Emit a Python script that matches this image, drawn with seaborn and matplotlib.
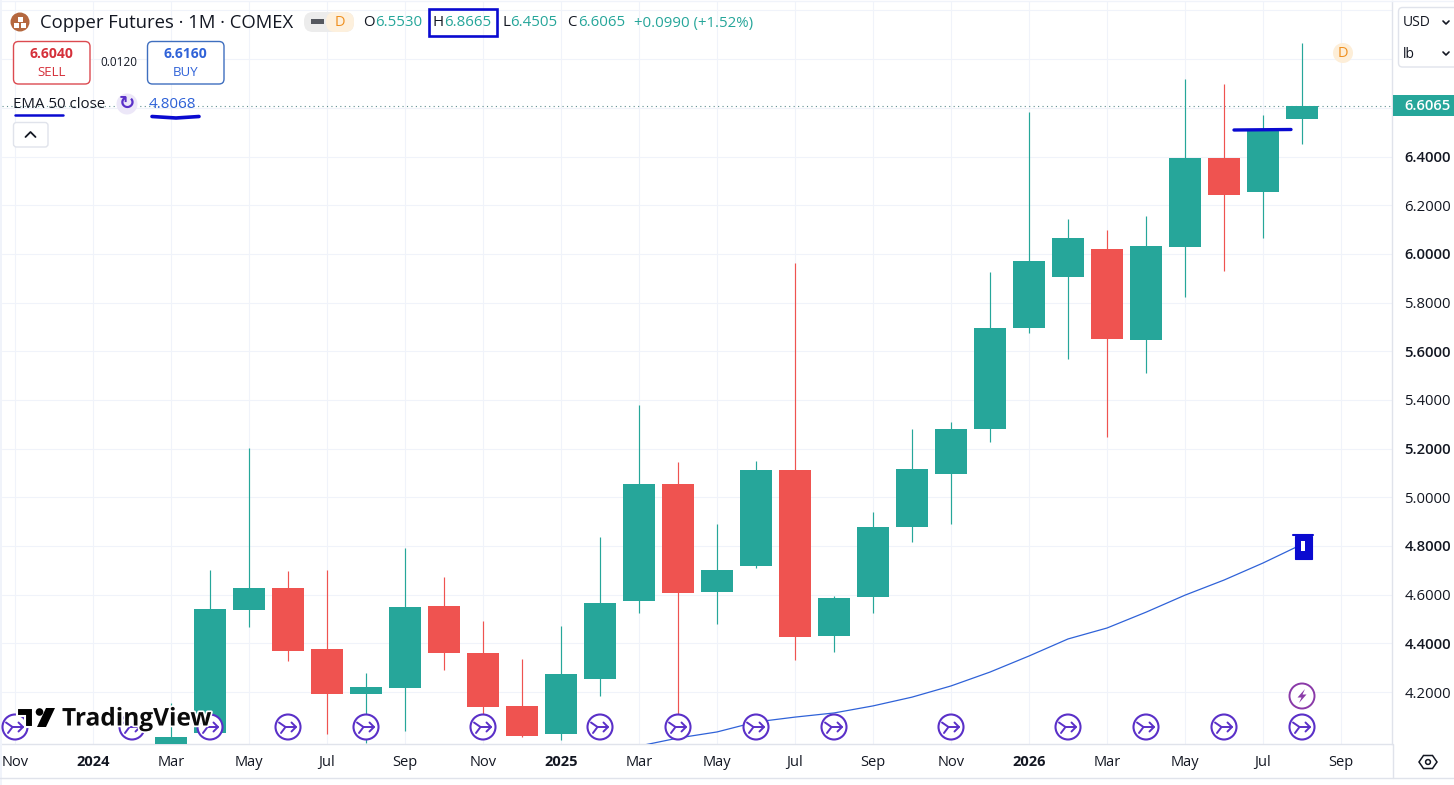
import pandas as pd
import matplotlib.pyplot as plt
import matplotlib.patheffects as pe
import seaborn as sns
from matplotlib.patches import Circle, FancyBboxPatch, Polygon, Rectangle

# monthly candles, month 0 = Nov 2023 (earlier ones are off the bottom of the scale)
months = list(range(4, 34))
opens = [3.96, 4.032, 4.537, 4.627, 4.377, 4.192, 4.216, 4.553, 4.360, 4.143,
         4.028, 4.253, 4.574, 5.054, 4.610, 4.717, 5.111, 4.430, 4.590, 4.877,
         5.095, 5.280, 5.694, 5.904, 6.019, 5.645, 6.027, 6.392, 6.253, 6.553]
highs = [4.155, 4.701, 5.202, 4.697, 4.701, 4.278, 4.791, 4.672, 4.491, 4.335,
         4.471, 4.836, 5.378, 5.144, 4.890, 5.148, 5.961, 4.594, 4.939, 5.280,
         5.308, 5.924, 6.585, 6.142, 6.097, 6.154, 6.720, 6.700, 6.569, 6.8665]
lows = [3.93, 4.030, 4.467, 4.327, 4.028, 3.991, 4.040, 4.290, 4.106, 4.015,
        4.003, 4.184, 4.524, 4.100, 4.479, 4.709, 4.331, 4.364, 4.524, 4.816,
        4.890, 5.226, 5.674, 5.567, 5.247, 5.510, 5.821, 5.928, 6.064, 6.4505]
closes = [4.015, 4.541, 4.627, 4.368, 4.192, 4.221, 4.549, 4.360, 4.138, 4.019,
          4.274, 4.565, 5.054, 4.606, 4.700, 5.111, 4.426, 4.586, 4.877, 5.115,
          5.280, 5.694, 5.969, 6.064, 5.649, 6.031, 6.396, 6.244, 6.507, 6.6065]

ema_months = list(range(16, 34))
ema_values = [3.978, 4.011, 4.036, 4.077, 4.097, 4.114, 4.143, 4.179, 4.225,
              4.282, 4.348, 4.418, 4.463, 4.528, 4.598, 4.660, 4.730, 4.8068]

y_ticks = [4.2, 4.4, 4.6, 4.8, 5.0, 5.2, 5.4, 5.6, 5.8, 6.0, 6.2, 6.4, 6.6, 6.8, 7.0]
y_labels = ['4.2000', '4.4000', '4.6000', '4.8000', '5.0000', '5.2000', '5.4000',
            '5.6000', '5.8000', '6.0000', '6.2000', '6.4000', '', '', '']
x_ticks = list(range(0, 35, 2))
x_labels = ['Nov', '2024', 'Mar', 'May', 'Jul', 'Sep', 'Nov', '2025', 'Mar', 'May',
            'Jul', 'Sep', 'Nov', '2026', 'Mar', 'May', 'Jul', 'Sep']
split_months = [0, 3, 5, 7, 9, 12, 15, 17, 19, 21, 24, 27, 29, 31, 33]

GREEN = '#26a69a'
RED = '#ef5350'
BLUE = '#2f62d8'
INK = '#131722'
PURPLE = '#5a30c8'
GRID = '#f0f3fa'
EDGE = '#e0e3eb'
MARKER = '#0a0ad0'

sns.set_theme(style='white')
plt.rcParams['font.family'] = ['Open Sans', 'DejaVu Sans']

W, H = 1454, 785
fig = plt.figure(figsize=(W / 100, H / 100), dpi=100, facecolor='white')
ax = fig.add_axes([2 / W, (H - 744) / H, 1390 / W, 743 / H])

df = pd.DataFrame({'month': months, 'open': opens, 'high': highs, 'low': lows, 'close': closes})
df['body'] = (df.close - df.open).abs()
df['base'] = df[['open', 'close']].min(axis=1)
df['up'] = df.close >= df.open
ax.set_axisbelow(True)

# wicks first, then the bodies on top
ax.vlines(df.month, df.low, df.high, colors=[GREEN if u else RED for u in df.up], linewidth=0.85, zorder=2)
for flag, colour in [(True, GREEN), (False, RED)]:
    part = df[df.up == flag]
    sns.barplot(data=part, x='month', y='body', bottom=part.base.values, native_scale=True,
                width=0.8, color=colour, saturation=1, errorbar=None, linewidth=0,
                zorder=3, ax=ax)

ema = pd.DataFrame({'month': ema_months, 'ema': ema_values})
sns.lineplot(data=ema, x='month', y='ema', color=BLUE, linewidth=0.9, zorder=4, ax=ax)

ax.axhline(closes[-1], color='#5f8f90', linewidth=0.8, linestyle=(0, (1, 3)), zorder=1)
ax.set_xlim(-1 / 3, 35.308)
ax.set_ylim(3.9865, 7.039)
ax.set_xlabel('')
ax.set_ylabel('')
ax.grid(True, color=GRID, linewidth=0.75)
ax.yaxis.tick_right()
ax.set_yticks(y_ticks, y_labels)
ax.set_xticks(x_ticks, x_labels)
ax.tick_params(axis='both', length=0, labelcolor=INK, labelsize=10.5)
ax.tick_params(axis='x', pad=8)
ax.tick_params(axis='y', pad=9, labelsize=10.7)
for lab in ax.get_xticklabels():
    if lab.get_text().isdigit():
        lab.set_fontweight('bold')
for i, lab in enumerate(ax.get_yticklabels()):
    if i % 2 == 1:
        lab.set_fontweight('semibold')
for name, spine in ax.spines.items():
    spine.set_color(EDGE)
    spine.set_linewidth(1)
    spine.set_visible(name in ('right', 'bottom'))

# pixel overlay for the TradingView interface around the chart
ui = fig.add_axes([0, 0, 1, 1], facecolor='none')
ui.set_xlim(0, W)
ui.set_ylim(H, 0)
ui.axis('off')


def label(x, y, text, color=INK, size=10.8, weight='normal', ha='left', **kws):
    return ui.text(x, y, text, color=color, fontsize=size, fontweight=weight, ha=ha, va='center', **kws)


def box(x0, y0, x1, y1, edge, face='white', lw=1.0, pad=5):
    ui.add_patch(FancyBboxPatch((x0 + pad, y0 + pad), x1 - x0 - 2 * pad, y1 - y0 - 2 * pad,
                                boxstyle=f'round,pad={pad}', edgecolor=edge, facecolor=face, linewidth=lw))


# outer frame
ui.add_patch(Rectangle((0, 0), 2, H, facecolor=GRID, edgecolor='none'))
ui.plot([0, W], [1, 1], color=GRID, lw=1)
ui.plot([0, W], [778, 778], color=EDGE, lw=1)
ui.plot([1392.5, 1392.5], [744, 778], color=EDGE, lw=1)

# header
ui.add_patch(Circle((20, 22), 9.5, facecolor='#b5683f', edgecolor='none'))
for sx, sy in [(17.5, 16.5), (14, 23), (21, 23)]:
    ui.add_patch(Rectangle((sx, sy), 5, 5, facecolor='white', edgecolor='none'))
label(40, 23, 'Copper Futures · 1M · COMEX', size=13.3)

box(304, 12, 354, 32, 'none', face='#ececec', pad=9)
ui.add_patch(FancyBboxPatch((335, 21), 10, 2, boxstyle='round,pad=9', edgecolor='none', facecolor='#fdf0dd'))
ui.add_patch(Rectangle((311, 18.5), 13, 5, facecolor='#55585f', edgecolor='none'))
label(340, 22.5, 'D', color='#ef8f1e', size=10.5, ha='center')

for lx, letter, vx, value in [(363, 'O', 375, '6.5530'), (432, 'H', 444, '6.8665'),
                              (502, 'L', 510, '6.4505'), (567, 'C', 578, '6.6065')]:
    label(lx, 23, letter)
    label(vx, 23, value, color=GREEN)
label(634, 23, '+0.0990 (+1.52%)', color=GREEN)
ui.add_patch(Rectangle((429, 8.5), 68, 27, facecolor='none', edgecolor=MARKER, linewidth=1.9))

# buy / sell
box(13.5, 41.5, 90, 84, '#dc4a50')
label(51.5, 54, '6.6040', color='#d5303a', size=10, weight='bold', ha='center')
label(51.5, 72, 'SELL', color='#d5303a', size=9.5, ha='center')
label(119, 62, '0.0120', size=8.5, ha='center')
box(147.5, 41.5, 224, 84, '#3f6fbf')
label(185.5, 54, '6.6160', color=BLUE, size=10, weight='bold', ha='center')
label(185.5, 72, 'BUY', color=BLUE, size=9.5, ha='center')

# indicator legend
label(13, 105, 'EMA 50 close', size=10.8)
label(149, 105, '4.8068', color=BLUE, size=11)
ui.add_patch(Circle((127, 104), 10.5, facecolor='#ece7f8', edgecolor='none'))
ui.text(127, 104, '↻', color=PURPLE, fontsize=14, ha='center', va='center', fontweight='bold')
ui.plot([15, 63], [115, 115], color=MARKER, lw=1.8, solid_capstyle='round')
ui.plot([152, 176, 199], [116.5, 118, 116.5], color=MARKER, lw=2.6, solid_capstyle='round')
box(13.5, 122.5, 48, 147, EDGE, pad=3)
ui.plot([25.5, 30.5, 35.5], [137, 132, 137], color=INK, lw=1.3)

# right panel
ui.add_patch(Rectangle((1393, 95), 61, 21, facecolor=GREEN, edgecolor='none'))
label(1404, 105.5, '6.6065', color='white', size=10.7, weight='semibold')
box(1398.5, 7.5, 1470, 67, EDGE, pad=4)
label(1403, 23, 'USD', size=10)
label(1403, 54, 'lb', size=10)
for cy in (22, 53):
    ui.plot([1443, 1446, 1449], [cy - 1, cy + 2, cy - 1], color=INK, lw=1.2)
ui.add_patch(Polygon([(1419, 762), (1423.5, 755.5), (1432.5, 755.5), (1437, 762), (1432.5, 768.5), (1423.5, 768.5)],
                     closed=True, facecolor='none', edgecolor=INK, lw=1.1))
ui.add_patch(Circle((1428, 762), 2.4, facecolor='none', edgecolor=INK, lw=1.1))

# dividend marker and hand drawn highlights
ui.add_patch(Circle((1343, 53), 10, facecolor='#fdeed8', edgecolor='none'))
label(1343, 53.5, 'D', color='#ef8f1e', size=10.5, ha='center')
ui.plot([1234, 1291], [130, 129.5], color=MARKER, lw=2.4, solid_capstyle='round')
ui.add_patch(Rectangle((1294.5, 536), 17, 23, facecolor=MARKER, edgecolor=MARKER, lw=0.8))
ui.plot([1292.5, 1313], [535, 535], color=MARKER, lw=1.5)
ui.add_patch(Rectangle((1300.5, 541), 4.5, 9.5, facecolor='white', edgecolor='none'))

# contract roll markers along the bottom
for m in split_months:
    cx = 15 + 39 * m
    ui.add_patch(Circle((cx, 727), 12.5, facecolor='white', edgecolor=PURPLE, lw=1.5))
    ui.plot([cx - 9, cx - 2.5, cx + 8], [722.5, 727, 727], color=PURPLE, lw=1.4)
    ui.plot([cx - 7, cx - 2.5], [733, 727], color=PURPLE, lw=1.4)
    ui.plot([cx + 3.5, cx + 8, cx + 3.5], [722.5, 727, 731.5], color=PURPLE, lw=1.4)
ui.add_patch(Circle((1302, 696), 12.5, facecolor='white', edgecolor='#8a3aa8', lw=1.4))
ui.add_patch(Polygon([(1305, 689), (1297.5, 697.5), (1301.5, 697.5), (1299, 703), (1306.5, 694.5), (1302.5, 694.5)],
                     closed=True, facecolor='#8a3aa8', edgecolor='none'))

# TradingView logo over the markers
ui.add_patch(Polygon([(17, 708), (33, 708), (33, 727), (24.5, 727), (24.5, 716), (17, 716)],
                     closed=True, facecolor='black', edgecolor='white', lw=1.5))
ui.add_patch(Circle((39.5, 712), 3.8, facecolor='black', edgecolor='none'))
ui.add_patch(Polygon([(46, 708), (55, 708), (46, 727), (37, 727)], closed=True, facecolor='black', edgecolor='none'))
tv = label(62, 719.5, 'TradingView', color='#0b0b0b', size=17.6, weight='bold')
tv.set_path_effects([pe.withStroke(linewidth=2.5, foreground='white')])

fig.savefig('out.png', dpi=100)
